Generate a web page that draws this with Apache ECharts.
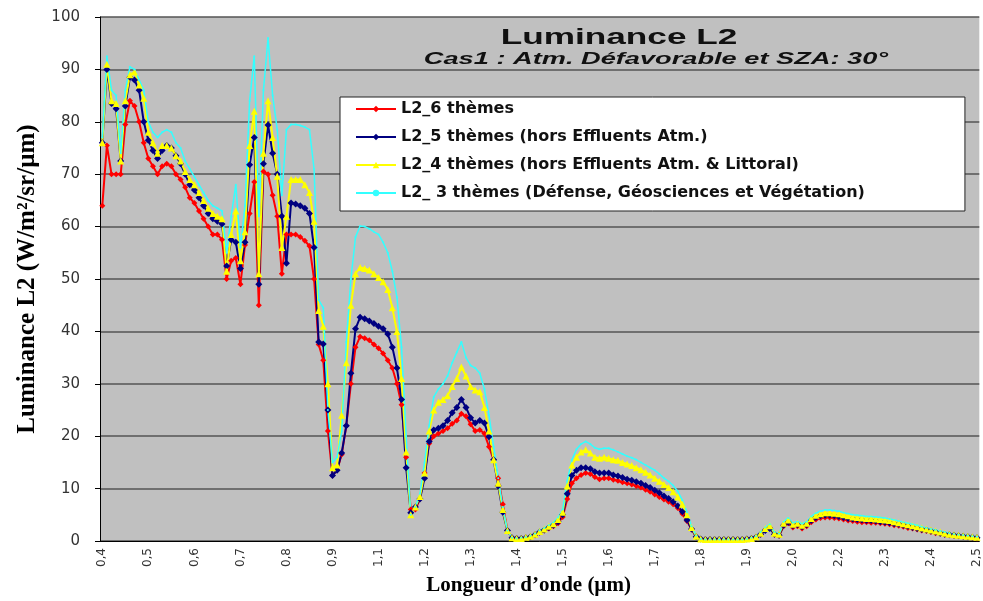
<!DOCTYPE html>
<html>
<head>
<meta charset="utf-8">
<script src="https://cdn.jsdelivr.net/npm/echarts@6/dist/echarts.min.js"></script>
<style>
  html, body { margin: 0; padding: 0; background: #ffffff; }
  #chart { width: 983px; height: 601px; }
</style>
</head>
<body>
<div id="chart"></div>
<script>
// Spectral sampling (µm)
const wavelengths = [
  0.40, 0.41, 0.42, 0.43, 0.44, 0.45, 0.46, 0.47, 0.48, 0.49,
  0.50, 0.51, 0.52, 0.53, 0.54, 0.55, 0.56, 0.57, 0.58, 0.59,
  0.60, 0.61, 0.62, 0.63, 0.64, 0.65, 0.66, 0.67, 0.68, 0.69,
  0.70, 0.71, 0.72, 0.73, 0.74, 0.75, 0.76, 0.77, 0.78, 0.79,
  0.80, 0.81, 0.82, 0.83, 0.84, 0.85, 0.86, 0.87, 0.88, 0.89,
  0.90, 0.92, 0.94, 0.96, 0.98, 1.00, 1.02, 1.04, 1.06, 1.08,
  1.10, 1.11, 1.12, 1.13, 1.14, 1.15, 1.16, 1.17, 1.18, 1.19,
  1.20, 1.21, 1.22, 1.23, 1.24, 1.25, 1.26, 1.27, 1.28, 1.29,
  1.30, 1.31, 1.32, 1.33, 1.34, 1.35, 1.36, 1.37, 1.38, 1.39,
  1.40, 1.41, 1.42, 1.43, 1.44, 1.45, 1.46, 1.47, 1.48, 1.49,
  1.50, 1.51, 1.52, 1.53, 1.54, 1.55, 1.56, 1.57, 1.58, 1.59,
  1.60, 1.61, 1.62, 1.63, 1.64, 1.65, 1.66, 1.67, 1.68, 1.69,
  1.70, 1.71, 1.72, 1.73, 1.74, 1.75, 1.76, 1.77, 1.78, 1.79,
  1.80, 1.81, 1.82, 1.83, 1.84, 1.85, 1.86, 1.87, 1.88, 1.89,
  1.90, 1.91, 1.92, 1.93, 1.94, 1.95, 1.96, 1.97, 1.98, 1.99,
  2.00, 2.02, 2.04, 2.06, 2.08, 2.10, 2.12, 2.14, 2.16, 2.18,
  2.20, 2.21, 2.22, 2.23, 2.24, 2.25, 2.26, 2.27, 2.28, 2.29,
  2.30, 2.31, 2.32, 2.33, 2.34, 2.35, 2.36, 2.37, 2.38, 2.39,
  2.40, 2.41, 2.42, 2.43, 2.44, 2.45, 2.46, 2.47, 2.48, 2.49,
  2.50
];

// L2 radiance, 6 themes
const l2Six = [
  64, 75.5, 70, 70, 70, 79.5, 84, 83, 80, 76,
  73, 71.5, 70, 71.5, 72, 71.5, 70, 69, 67.5, 65.5,
  64.5, 63, 61.5, 60, 58.5, 58.5, 57.5, 50, 53.5, 54,
  49, 56.5, 62.5, 68.5, 45, 70.5, 70, 66, 62, 51,
  58.5, 58.5, 58.5, 58, 57.3, 56.3, 50, 37.5, 34.5, 21,
  12.5, 13.5, 16.5, 22, 30, 37, 39, 38.7, 38.3, 37.5,
  36.8, 35.8, 34.5, 33, 30, 26, 16, 6, 6, 8,
  13, 18.6, 20, 20.5, 21, 21.5, 22.4, 23, 24.3, 23.8,
  22.3, 21, 21.2, 20.5, 18, 15.5, 12, 7, 2, 0.6,
  0.5, 0.5, 0.6, 0.8, 1.1, 1.6, 2.0, 2.4, 2.8, 3.4,
  4.6, 8, 11, 12, 12.6, 13, 12.8, 12.2, 11.8, 12,
  12, 11.7, 11.5, 11.2, 11, 10.8, 10.5, 10.2, 9.8, 9.4,
  8.9, 8.4, 7.9, 7.5, 7, 6.3, 5.2, 3.8, 2.2, 0.8,
  0.4, 0.3, 0.3, 0.3, 0.3, 0.3, 0.3, 0.3, 0.3, 0.3,
  0.4, 0.5, 0.7, 1.2, 2.2, 2.6, 1.2, 1.0, 2.8, 3.4,
  2.6, 2.8, 2.4, 2.8, 3.6, 4.1, 4.4, 4.5, 4.5, 4.4,
  4.3, 4.1, 3.9, 3.8, 3.7, 3.6, 3.6, 3.5, 3.5, 3.4,
  3.3, 3.2, 3.0, 2.9, 2.7, 2.5, 2.4, 2.2, 2.0, 1.9,
  1.7, 1.5, 1.4, 1.2, 1.1, 1.0, 0.9, 0.8, 0.7, 0.6,
  0.5
];

// L2 radiance, 5 themes (without atmospheric effluents)
const l2Five = [
  76, 90, 83.5, 82.5, 72.5, 83, 88.5, 88, 86, 80,
  76.5, 74.5, 73, 74.5, 75.5, 75, 73.5, 72, 70, 68,
  67, 65.5, 64, 62.5, 61.5, 61, 60.5, 52.5, 57.5, 57,
  52, 57, 71.8, 77, 49, 72, 79.4, 74, 70, 62,
  53, 64.5, 64.3, 64, 63.5, 62.5, 56, 38, 37.6, 25,
  12.5, 13.5, 16.8, 22, 32, 40.5, 42.7, 42.4, 42, 41.5,
  41, 40.5, 39.5, 37, 33, 27, 14, 5.4, 6.5, 8,
  12, 19, 21.2, 21.5, 22, 23, 24.5, 25.5, 27, 25.5,
  23.5, 22.5, 23, 22.5, 19.9, 15.5, 10.5, 5.5, 2, 0.6,
  0.5, 0.5, 0.6, 0.8, 1.2, 1.7, 2.1, 2.6, 3.0, 3.7,
  5, 9, 12.5, 13.5, 14, 14, 13.8, 13.2, 13, 13,
  13, 12.6, 12.4, 12.1, 11.8, 11.6, 11.3, 11, 10.6, 10.2,
  9.7, 9.2, 8.6, 8.1, 7.5, 6.7, 5.6, 4, 2.3, 0.8,
  0.4, 0.3, 0.3, 0.3, 0.3, 0.3, 0.3, 0.3, 0.3, 0.3,
  0.4, 0.5, 0.7, 1.3, 2.0, 2.4, 1.3, 1.1, 3.0, 3.6,
  2.9, 3.1, 2.7, 3.1, 3.9, 4.5, 4.8, 4.9, 4.9, 4.8,
  4.7, 4.5, 4.3, 4.2, 4.1, 4.0, 3.9, 3.9, 3.8, 3.7,
  3.6, 3.5, 3.3, 3.2, 3.0, 2.8, 2.6, 2.4, 2.2, 2.1,
  1.9, 1.7, 1.5, 1.3, 1.2, 1.1, 1.0, 0.9, 0.8, 0.7,
  0.6
];

// L2 radiance, 4 themes (without atmospheric effluents and coastal)
const l2Four = [
  76, 91, 84, 83.5, 72.5, 84, 89, 89.5, 87, 84.5,
  78, 76, 74, 75.5, 75.5, 75, 73.5, 72.5, 70.5, 69,
  68, 66.5, 65, 63.5, 62.5, 62, 61.5, 51.5, 58.5, 63,
  53.5, 59, 75.5, 82, 51, 74, 84, 77, 69.6, 56,
  62, 69, 69, 69, 68, 66.5, 61, 44, 41, 30,
  14, 14.5, 24, 34, 45, 51, 52.2, 52, 51.7, 51,
  50.3, 49.5, 48, 44.5, 40, 31, 17, 5, 6.5, 8.5,
  13, 21, 25, 26.5, 27, 27.7, 29.5, 31, 33.2, 31.5,
  29.5, 28.8, 28.5, 25.5, 21, 15.5, 11, 6, 2, 0.6,
  0.5, 0.5, 0.7, 0.9, 1.3, 1.8, 2.3, 2.8, 3.3, 4.1,
  5.5, 10.5, 14.5, 16, 17, 17.4, 16.8, 16, 15.8, 16,
  15.8, 15.5, 15.4, 15, 14.7, 14.4, 14, 13.6, 13.1, 12.6,
  12, 11.4, 10.8, 10.2, 9.4, 8.4, 7, 5, 2.6, 0.9,
  0.4, 0.3, 0.3, 0.3, 0.3, 0.3, 0.3, 0.3, 0.3, 0.3,
  0.4, 0.5, 0.8, 1.5, 2.4, 2.9, 1.5, 1.3, 3.4, 4.0,
  3.2, 3.4, 3.0, 3.4, 4.3, 4.9, 5.2, 5.4, 5.4, 5.3,
  5.2, 5.0, 4.8, 4.6, 4.5, 4.4, 4.3, 4.3, 4.2, 4.1,
  4.0, 3.9, 3.7, 3.5, 3.3, 3.1, 2.9, 2.7, 2.5, 2.3,
  2.1, 1.9, 1.7, 1.5, 1.3, 1.2, 1.1, 1.0, 0.9, 0.8,
  0.7
];

// L2 radiance, 3 themes (defence, geosciences and vegetation)
const l2Three = [
  77, 92.5, 86, 85, 74, 86, 90.5, 90, 88, 86,
  80, 78, 77, 78, 78.5, 78, 76, 75, 72.5, 71,
  69.5, 68, 66.5, 65, 64, 63.5, 63, 55, 62, 68,
  56, 64, 84, 92.5, 62, 86, 96, 85, 78.5, 66,
  78.5, 79.5, 79.5, 79.3, 79, 78.5, 71, 46, 44.5, 25,
  15, 16, 21, 38, 50, 58, 60.1, 60, 59.6, 59,
  58.5, 57, 55, 51.5, 46.5, 37, 20, 5, 6.5, 9,
  15, 22, 27.5, 29, 30, 31.5, 34, 36, 38, 35,
  33.5, 33, 32, 29, 24, 18, 12, 6.5, 2, 0.6,
  0.5, 0.6, 0.7, 1.0, 1.4, 2.0, 2.5, 3.0, 3.6, 4.5,
  6, 11.5, 15.5, 17.5, 18.5, 19, 18.5, 17.8, 17.5, 17.7,
  17.7, 17.4, 17, 16.6, 16.2, 15.9, 15.5, 15, 14.5, 14,
  13.5, 12.8, 12, 11.4, 10.6, 9.5, 7.8, 5.5, 2.8, 1,
  0.4, 0.3, 0.3, 0.3, 0.3, 0.3, 0.3, 0.3, 0.3, 0.3,
  0.4, 0.6, 0.9, 1.7, 2.6, 3.2, 1.7, 1.4, 3.7, 4.4,
  3.5, 3.7, 3.3, 3.7, 4.7, 5.3, 5.7, 5.9, 5.9, 5.8,
  5.7, 5.4, 5.2, 5.0, 4.9, 4.8, 4.7, 4.7, 4.6, 4.5,
  4.4, 4.2, 4.0, 3.8, 3.6, 3.4, 3.2, 3.0, 2.7, 2.5,
  2.3, 2.1, 1.9, 1.7, 1.5, 1.3, 1.2, 1.1, 1.0, 0.9,
  0.8
];

const seriesNames = [
  'L2_6 thèmes',
  'L2_5 thèmes (hors Effluents Atm.)',
  'L2_4 thèmes (hors Effluents Atm. & Littoral)',
  'L2_ 3 thèmes (Défense, Géosciences et Végétation)'
];

const chart = echarts.init(document.getElementById('chart'), null, { renderer: 'canvas' });

function lineSeries(name, data, color, symbol, size, width) {
  return {
    name: name,
    type: 'line',
    data: data,
    symbol: symbol,
    symbolSize: size,
    showAllSymbol: true,
    lineStyle: { color: color, width: width },
    itemStyle: { color: color },
    emphasis: { disabled: true }
  };
}

chart.setOption({
  animation: false,
  backgroundColor: '#ffffff',
  grid: {
    left: 100, right: 3, top: 17, bottom: 56,
    show: true, backgroundColor: '#c0c0c0', borderWidth: 0
  },
  graphic: [
    {
      type: 'text', x: 619, y: 38, scaleX: 1.6, z: 10,
      style: {
        text: 'Luminance L2', fill: '#111',
        font: 'bold 22px "Liberation Sans", Arial, sans-serif',
        textAlign: 'center', textVerticalAlign: 'middle'
      }
    },
    {
      type: 'text', x: 656, y: 59, scaleX: 1.6, z: 10,
      style: {
        text: 'Cas1 : Atm. Défavorable et SZA: 30°', fill: '#111',
        font: 'italic bold 17px "Liberation Sans", Arial, sans-serif',
        textAlign: 'center', textVerticalAlign: 'middle'
      }
    }
  ],
  legend: {
    data: seriesNames,
    orient: 'vertical',
    left: 340, top: 97,
    itemWidth: 40, itemHeight: 8, itemGap: 10,
    padding: [3, 100, 9, 15],
    backgroundColor: '#ffffff',
    borderColor: '#222', borderWidth: 1,
    selectedMode: false,
    textStyle: {
      fontFamily: 'DejaVu Sans', fontWeight: 'bold', fontSize: 16,
      color: '#111', lineHeight: 18
    }
  },
  xAxis: {
    type: 'category',
    data: wavelengths,
    boundaryGap: true,
    name: 'Longueur d’onde (µm)',
    nameLocation: 'middle',
    nameGap: 32,
    nameTextStyle: {
      fontFamily: 'Liberation Serif', fontWeight: 'bold', fontSize: 21,
      color: '#000', padding: [0, 22, 0, 0]
    },
    axisLine: { lineStyle: { color: '#000', width: 1 } },
    axisTick: { interval: 0, length: 4, lineStyle: { color: '#000' } },
    axisLabel: {
      interval: 9, rotate: 90, margin: 7,
      fontFamily: 'DejaVu Sans', fontSize: 12, color: '#333',
      formatter: function (v) { return Number(v).toFixed(1).replace('.', ','); }
    },
    splitLine: { show: false }
  },
  yAxis: {
    type: 'value',
    min: 0, max: 100, interval: 10,
    name: 'Luminance L2 (W/m²/sr/µm)',
    nameLocation: 'middle',
    nameGap: 53,
    nameTextStyle: {
      fontFamily: 'Liberation Serif', fontWeight: 'bold', fontSize: 25, color: '#000'
    },
    axisLine: { show: true, lineStyle: { color: '#000', width: 1 } },
    axisTick: { show: true, length: 5, lineStyle: { color: '#000' } },
    axisLabel: { fontFamily: 'DejaVu Sans', fontSize: 15, color: '#333', margin: 20 },
    splitLine: { lineStyle: { color: '#555', width: 1.5 } }
  },
  series: [
    lineSeries(seriesNames[0], l2Six, '#ff0000', 'diamond', 6, 2),
    lineSeries(seriesNames[1], l2Five, '#000080', 'diamond', 7, 2),
    lineSeries(seriesNames[2], l2Four, '#ffff00', 'triangle', 7, 2),
    lineSeries(seriesNames[3], l2Three, '#33ffff', 'circle', 2, 1.5)
  ]
});
</script>
</body>
</html>
